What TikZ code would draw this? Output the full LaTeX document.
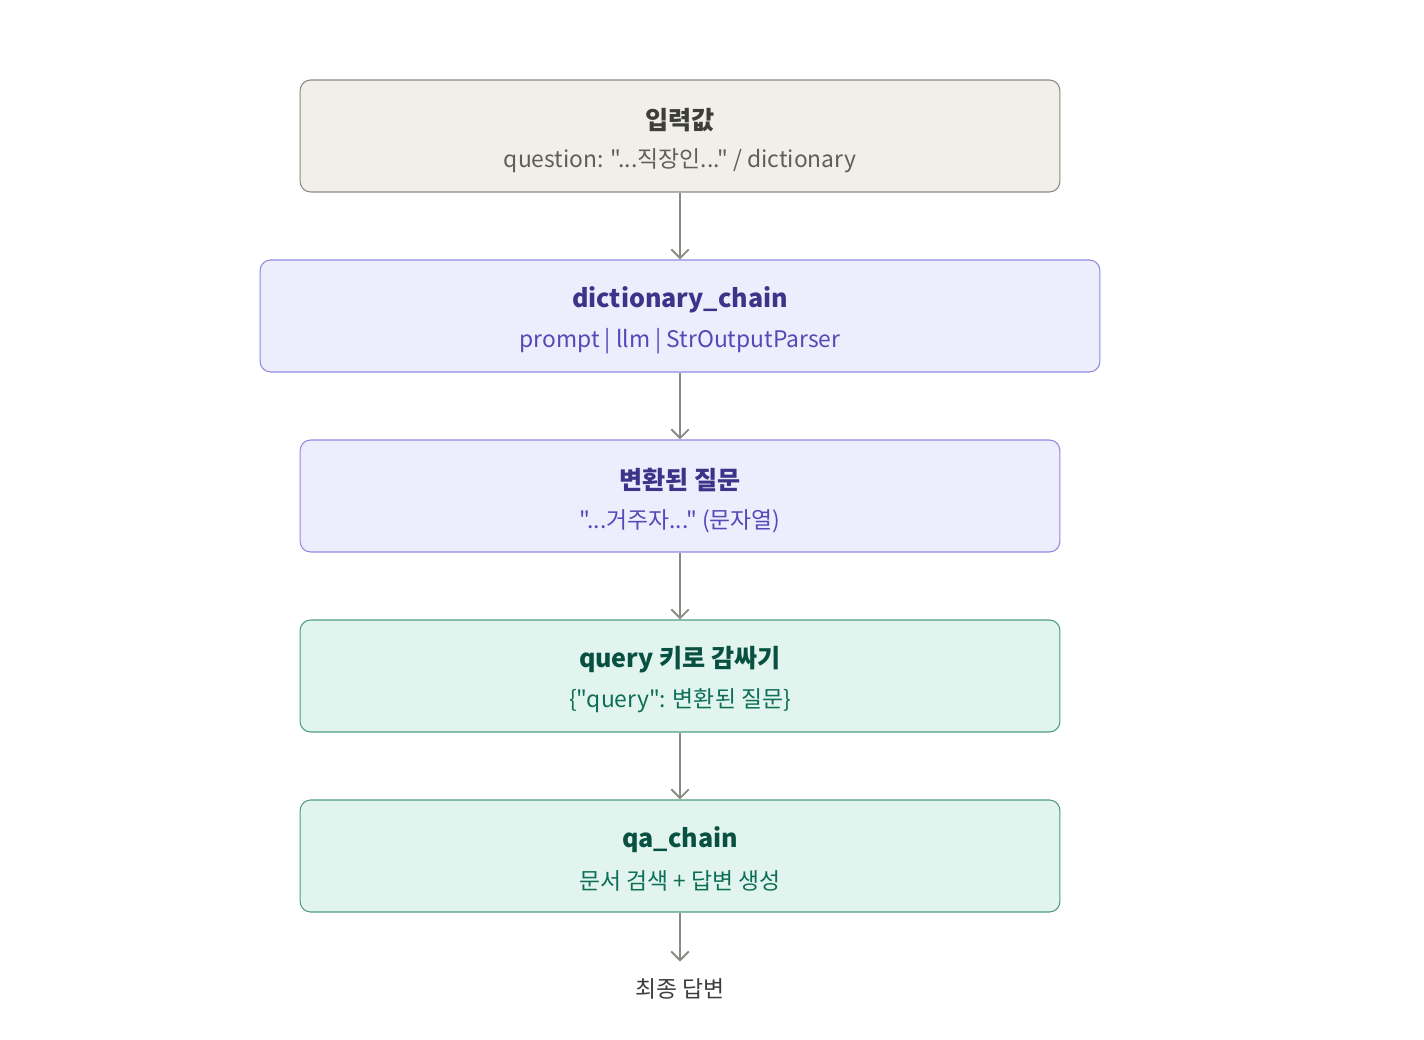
\documentclass[tikz,border=0pt]{standalone}
\usepackage{fontspec}
\setmainfont{Noto Sans CJK KR}[Ligatures=TeXOff]
\usetikzlibrary{arrows.meta}

\definecolor{graybox}{HTML}{F1EFE8}
\definecolor{grayline}{HTML}{8A8984}
\definecolor{graytitle}{HTML}{3D3D3A}
\definecolor{graysub}{HTML}{5F5E5A}
\definecolor{purplebox}{HTML}{EEEDFE}
\definecolor{purpleline}{HTML}{8F88E0}
\definecolor{purpletitle}{HTML}{3C3489}
\definecolor{purplesub}{HTML}{534AB7}
\definecolor{greenbox}{HTML}{E1F5EE}
\definecolor{greenline}{HTML}{4E9C82}
\definecolor{greentitle}{HTML}{085041}
\definecolor{greensub}{HTML}{0F6E56}

\begin{document}
\begin{tikzpicture}[x=0.02cm, y=-0.02cm]
                \tikzset{Box/.style= {rounded corners=6pt, line width=0.6pt, minimum height=2.24cm}}
                \tikzset{GrayBox/.style= {Box, draw=grayline, fill=graybox}}
                \tikzset{PurpleBox/.style= {Box, draw=purpleline, fill=purplebox}}
                \tikzset{GreenBox/.style= {Box, draw=greenline, fill=greenbox}}
                \tikzset{Title/.style= {font=\fontsize{14.3}{17}\selectfont, inner sep=0pt}}
                \tikzset{Sub/.style= {font=\fontsize{13}{15}\selectfont, inner sep=0pt}}
                \tikzset{Flow/.style= {draw=grayline, line width=1.1pt, -{Straight Barb[length=5pt, width=10pt, line width=1.1pt]}}}
                \useasboundingbox (0,0) rectangle (1424,1040);
                % boxes
                \node[GrayBox, minimum width=15.2cm] (input) at (680,136) {};
                \node[PurpleBox, minimum width=16.8cm] (dict) at (680,316) {};
                \node[PurpleBox, minimum width=15.2cm] (changed) at (680,496) {};
                \node[GreenBox, minimum width=15.2cm] (wrap) at (680,676) {};
                \node[GreenBox, minimum width=15.2cm] (qa) at (680,856) {};
                % texts
                \node[Title, text=graytitle] (inputT) at (680,120) {\bfseries 입력값};
                \node[Sub, text=graysub] (inputS) at (680,161) {question: "...직장인..." / dictionary};
                \node[Title, text=purpletitle] (dictT) at (680,300) {\bfseries dictionary\_chain};
                \node[Sub, text=purplesub] (dictS) at (680,341) {prompt | llm | StrOutputParser};
                \node[Title, text=purpletitle] (changedT) at (680,480) {\bfseries 변환된 질문};
                \node[Sub, text=purplesub] (changedS) at (680,521) {"...거주자..." (문자열)};
                \node[Title, text=greentitle] (wrapT) at (680,660) {\bfseries query 키로 감싸기};
                \node[Sub, text=greensub] (wrapS) at (680,701) {\{"query": 변환된 질문\}};
                \node[Title, text=greentitle] (qaT) at (680,840) {\bfseries qa\_chain};
                \node[Sub, text=greensub] (qaS) at (680,881) {문서 검색 + 답변 생성};
                \node[Sub, text=graytitle, anchor=north] (answer) at (680,978) {최종 답변};
                % arrows
                \draw[Flow] (input) -- (dict);
                \draw[Flow] (dict) -- (changed);
                \draw[Flow] (changed) -- (wrap);
                \draw[Flow] (wrap) -- (qa);
                \draw[Flow] (qa.south) -- ++(0,49);
            \end{tikzpicture}
\end{document}
